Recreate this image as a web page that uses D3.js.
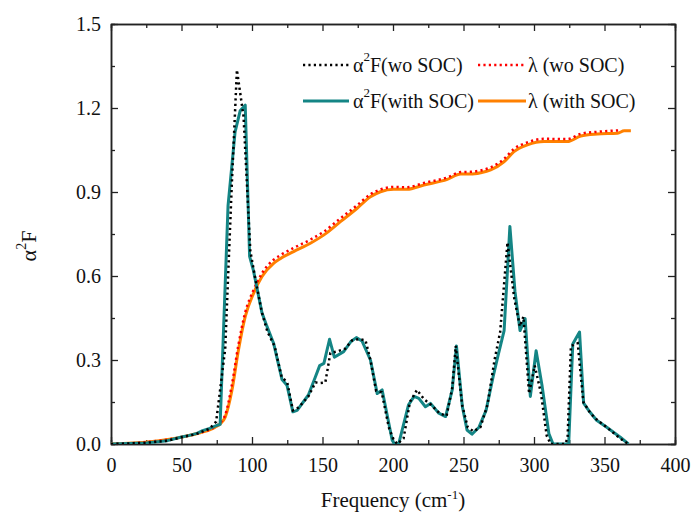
<!DOCTYPE html>
<html>
<head>
<meta charset="utf-8">
<script src="https://cdn.jsdelivr.net/npm/d3@7"></script>
<style>
  body { margin: 0; background: #fff; }
</style>
</head>
<body>
<div id="chart"></div>
<script>
// alpha^2 F, without SOC (black dotted)
var freqWo = [0,25,40,50,60,65,70,74.6,81,85.7,89.3,94,98.8,102,107,111,116,121,125,129,133,140,145,148.5,152,155.6,160,166,171,176,180.5,184,188,192,197,200,203,207.5,212,217,222,227,233,238,242,244.5,249,253,257,262,267,272,276,281.2,286,290,292.5,296.5,300.5,305,309,311.8,322,323.8,326.2,331,335,340,345,352,361,367];
var a2fWo = [0,0.004,0.012,0.024,0.035,0.045,0.055,0.08,0.34,0.93,1.336,1.17,0.69,0.6,0.47,0.40,0.35,0.24,0.22,0.12,0.13,0.17,0.22,0.218,0.22,0.325,0.33,0.34,0.37,0.375,0.37,0.30,0.19,0.185,0.06,0.02,0.0,0.02,0.15,0.193,0.16,0.14,0.11,0.10,0.2,0.35,0.14,0.06,0.045,0.06,0.14,0.30,0.40,0.72,0.52,0.42,0.455,0.18,0.28,0.18,0.03,0,0,0.02,0.35,0.36,0.15,0.11,0.085,0.058,0.02,0];

// alpha^2 F, with SOC (teal)
var freqWith = [0,25,40,50,55,61,65,70,76,77.4,83,88,91.6,95.2,98.3,101,107,110.6,115.3,121.3,124.8,129,132,140,145,148,151,155,158.4,165,170,174,178,184,188.8,192.3,199.4,201,204,211,215,218.3,223,226.6,232.5,237.3,242,245,249.2,252.5,256,261,266,271,274.4,278.8,282.9,286.5,290.1,293.7,297.4,301.5,305.8,310.6,313.5,324.6,327.5,332.3,335.2,339.5,344.4,351.6,361.2,367];
var a2fWith = [0,0.004,0.012,0.025,0.03,0.038,0.048,0.056,0.068,0.07,0.85,1.115,1.19,1.21,0.67,0.62,0.47,0.42,0.36,0.23,0.21,0.115,0.12,0.175,0.24,0.28,0.288,0.374,0.31,0.33,0.365,0.38,0.368,0.30,0.18,0.193,0.014,0,0,0.14,0.17,0.163,0.133,0.145,0.11,0.098,0.193,0.35,0.133,0.05,0.035,0.06,0.12,0.24,0.314,0.405,0.777,0.545,0.405,0.448,0.17,0.333,0.205,0.036,0,0,0.357,0.40,0.146,0.115,0.085,0.06,0.024,0];

// lambda, with SOC (orange)
var freqLamWith = [0,27.7,51.4,63.2,73.9,77.4,81,85.7,90.4,95.2,101.1,107.1,115.3,120,129.5,141.4,150.8,162.7,174.6,184,191.1,200.6,210,221.9,238.5,248,255,262.2,269.3,278.7,285.8,295.3,307.1,323.7,333.2,345,359.3,364,368.7];
var lamWith = [0,0.008,0.026,0.04,0.06,0.072,0.096,0.19,0.336,0.455,0.538,0.598,0.645,0.662,0.687,0.717,0.746,0.794,0.842,0.883,0.901,0.91,0.91,0.925,0.945,0.964,0.964,0.969,0.979,1.008,1.044,1.068,1.08,1.08,1.10,1.107,1.11,1.119,1.119];

// lambda, without SOC (red dotted)
var freqLamWo = [0,27.7,51.4,63.2,73.9,77.4,81,85.7,90.4,95.2,101.1,107.1,115.3,120,129.5,141.4,150.8,162.7,174.6,184,191.1,200.6,210,221.9,238.5,248,255,262.2,269.3,278.7,285.8,295.3,307.1,323.7,333.2,345,360];
var lamWo = [0,0.008,0.026,0.04,0.062,0.076,0.104,0.21,0.355,0.47,0.55,0.61,0.658,0.674,0.7,0.73,0.758,0.806,0.853,0.892,0.909,0.918,0.917,0.932,0.952,0.971,0.972,0.977,0.988,1.018,1.054,1.077,1.09,1.089,1.108,1.115,1.12];

var xTicks = [0,50,100,150,200,250,300,350,400];
var yTicks = [0.0,0.3,0.6,0.9,1.2,1.5];

var FONT = "'Liberation Serif', Tinos, 'Times New Roman', Times, 'DejaVu Serif', 'Noto Serif', serif";

var W = 694, H = 519;
var margin = {top: 24, right: 19, bottom: 75, left: 111};
var width = W - margin.left - margin.right,
    height = H - margin.top - margin.bottom;

var svg = d3.select("#chart").append("svg")
  .attr("width", W).attr("height", H)
  .attr("font-family", FONT);
var g = svg.append("g")
  .attr("transform", "translate(" + margin.left + "," + margin.top + ")");

var x = d3.scaleLinear().domain([0, 400]).range([0, width]);
var y = d3.scaleLinear().domain([0, 1.5]).range([height, 0]);

// minor ticks
var xMinor = d3.range(25, 400, 50);
var yMinor = d3.range(0.15, 1.5, 0.3);

function majorAxis(axis, ticks, fmt) {
  return axis.tickValues(ticks).tickSizeInner(-7).tickSizeOuter(0).tickPadding(10)
    .tickFormat(fmt ? fmt : "");
}

var gx = g.append("g").attr("transform", "translate(0," + height + ")")
  .call(majorAxis(d3.axisBottom(x), xTicks, d3.format("d")));
g.append("g").call(majorAxis(d3.axisTop(x), xTicks, null));
var gy = g.append("g").call(majorAxis(d3.axisLeft(y), yTicks, d3.format(".1f")));
g.append("g").attr("transform", "translate(" + width + ",0)")
  .call(majorAxis(d3.axisRight(y), yTicks, null));

g.append("g").attr("transform", "translate(0," + height + ")")
  .call(d3.axisBottom(x).tickValues(xMinor).tickSize(-4).tickFormat(""));
g.append("g").call(d3.axisTop(x).tickValues(xMinor).tickSize(-4).tickFormat(""));
g.append("g").call(d3.axisLeft(y).tickValues(yMinor).tickSize(-4).tickFormat(""));
g.append("g").attr("transform", "translate(" + width + ",0)")
  .call(d3.axisRight(y).tickValues(yMinor).tickSize(-4).tickFormat(""));

g.selectAll("g").attr("font-family", FONT);
g.selectAll(".domain").attr("stroke", "#222").attr("stroke-width", 1.5);
g.selectAll(".tick line").attr("stroke", "#222").attr("stroke-width", 1.3);
g.selectAll(".tick text").attr("font-size", 20).attr("fill", "#111");
gx.selectAll(".tick text").attr("dy", "0.9em");

g.append("clipPath").attr("id", "clip")
  .append("rect").attr("width", width).attr("height", height + 2).attr("y", -2);

var plot = g.append("g").attr("clip-path", "url(#clip)");

function series(xs, ys) { return xs.map(function(d, i) { return [d, ys[i]]; }); }

var lineLin = d3.line().x(function(d) { return x(d[0]); }).y(function(d) { return y(d[1]); });
var lineSmooth = d3.line().curve(d3.curveMonotoneX)
  .x(function(d) { return x(d[0]); }).y(function(d) { return y(d[1]); });

plot.append("path").datum(series(freqLamWith, lamWith))
  .attr("d", lineSmooth).attr("fill", "none")
  .attr("stroke", "#ff8000").attr("stroke-width", 3);
plot.append("path").datum(series(freqLamWo, lamWo))
  .attr("d", lineSmooth).attr("fill", "none")
  .attr("stroke", "#ff0000").attr("stroke-width", 2.5)
  .attr("stroke-dasharray", "2.2,3.2");
plot.append("path").datum(series(freqWith, a2fWith))
  .attr("d", lineLin).attr("fill", "none")
  .attr("stroke", "#148585").attr("stroke-width", 3).attr("stroke-linejoin", "round");
plot.append("path").datum(series(freqWo, a2fWo))
  .attr("d", lineLin).attr("fill", "none")
  .attr("stroke", "#000").attr("stroke-width", 2.5)
  .attr("stroke-dasharray", "2.2,3.2");

// legend
var legend = svg.append("g");
var items = [
  {x1: 303, x2: 349, y: 65, color: "#000", dash: "2.2,3.2", w: 2.5, tx: 353, a2: true, label: "F(wo SOC)"},
  {x1: 478, x2: 524, y: 65, color: "#ff0000", dash: "2.2,3.2", w: 2.5, tx: 528, a2: false, label: "λ (wo SOC)"},
  {x1: 303, x2: 349, y: 101, color: "#148585", dash: null, w: 3, tx: 353, a2: true, label: "F(with SOC)"},
  {x1: 478, x2: 526, y: 101, color: "#ff8000", dash: null, w: 3, tx: 528, a2: false, label: "λ (with SOC)"}
];
items.forEach(function(it) {
  legend.append("line").attr("x1", it.x1).attr("x2", it.x2)
    .attr("y1", it.y).attr("y2", it.y)
    .attr("stroke", it.color).attr("stroke-width", it.w)
    .attr("stroke-dasharray", it.dash);
  var t = legend.append("text").attr("x", it.tx).attr("y", it.y + 7)
    .attr("font-size", 20).attr("fill", "#111");
  if (it.a2) {
    t.append("tspan").text("α");
    t.append("tspan").attr("dy", -11).attr("font-size", 13).text("2");
    t.append("tspan").attr("dy", 11).text(it.label);
  } else {
    t.text(it.label);
  }
});

// axis titles
var xt = svg.append("text").attr("x", margin.left + width / 2).attr("y", 507)
  .attr("text-anchor", "middle").attr("font-size", 21).attr("fill", "#111");
xt.append("tspan").text("Frequency (cm");
xt.append("tspan").attr("dy", -8).attr("font-size", 13).text("-1");
xt.append("tspan").attr("dy", 8).text(")");

var yt = svg.append("text")
  .attr("transform", "translate(36," + (margin.top + height / 2 + 12) + ") rotate(-90)")
  .attr("text-anchor", "middle").attr("font-size", 22).attr("fill", "#111");
yt.append("tspan").text("α");
yt.append("tspan").attr("dy", -10).attr("font-size", 14).text("2");
yt.append("tspan").attr("dy", 10).text("F");
</script>
</body>
</html>
